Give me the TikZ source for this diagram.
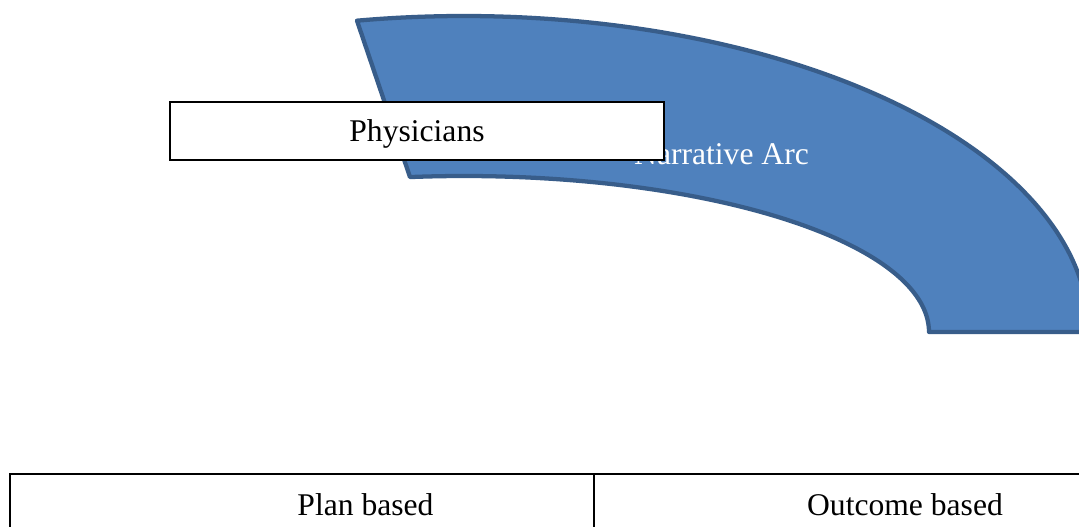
\documentclass[tikz,border=0pt]{standalone}
\usepackage{fontspec}
\setmainfont{Liberation Serif}
\definecolor{arcfill}{HTML}{4F81BD}
\definecolor{arcline}{HTML}{385D8A}
\tikzset{
  txt/.style={font=\fontsize{23.7pt}{28pt}\selectfont, inner sep=0pt, anchor=base},
  physbox/.style={draw=black, line width=1.1pt, fill=white, minimum width=370.5pt, minimum height=43.5pt,
    font=\fontsize{23.7pt}{28pt}\selectfont, text height=21.5pt, text depth=5pt, inner sep=0pt},
  tableline/.style={draw=black, line width=1.1pt},
  arcshape/.style={fill=arcfill, draw=arcline, line width=3.2pt, line join=round}
}
\begin{document}
\begin{tikzpicture}[x=0.75pt,y=-0.75pt]
\clip (0,0) rectangle (1079,527);
\fill[white] (0,0) rectangle (1079,527);
% block arc
\path[arcshape] plot[domain=99.86:0, samples=80, smooth] ({464+625*cos(\x)},{332-316*sin(\x)})
  -- (929,332)
  -- plot[domain=0:96.67, samples=80, smooth] ({464+465*cos(\x)},{332-156*sin(\x)})
  -- cycle;
\node[txt, text=white] (narr) at (721.5,165) {Narrative Arc};
\node[physbox] (phys) at (417,131) {Physicians};
% table
\coordinate (tl) at (10,474);
\coordinate (tr) at (1085,474);
\coordinate (bl) at (10,540);
\coordinate (mt) at (594,474);
\coordinate (mb) at (594,540);
\draw[tableline] (bl) -- (tl) -- (tr);
\draw[tableline] (mt) -- (mb);
\node[txt] (plan) at (365.5,515) {Plan based};
\node[txt] (outc) at (905,515) {Outcome based};
\end{tikzpicture}
\end{document}
